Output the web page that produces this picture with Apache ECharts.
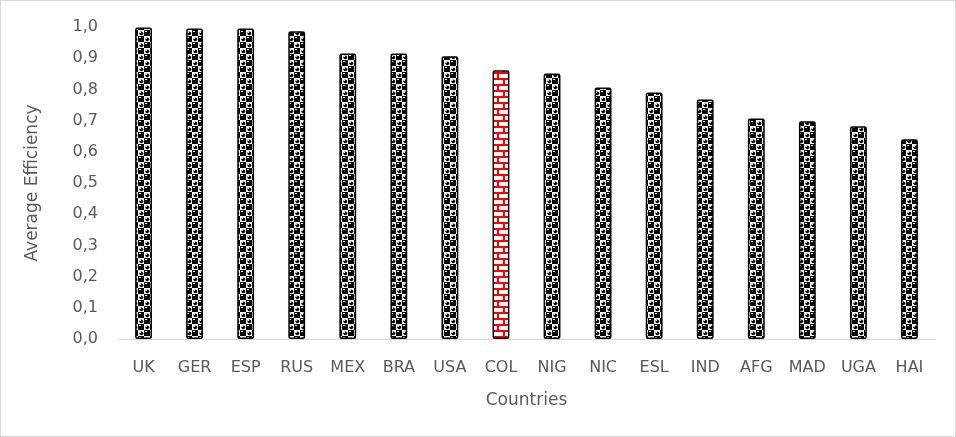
<!DOCTYPE html>
<html>
<head>
<meta charset="utf-8">
<script src="https://cdn.jsdelivr.net/npm/echarts@6/dist/echarts.min.js"></script>
<style>
html,body{margin:0;padding:0;background:#fff;}
#wrap{position:absolute;left:0;top:0;width:954px;height:435px;border:1px solid #d9d9d9;}
#chart{position:absolute;left:-1px;top:-1px;width:956px;height:437px;}
</style>
</head>
<body>
<div id="wrap"><div id="chart"></div></div>
<script>
const categories = ['UK','GER','ESP','RUS','MEX','BRA','USA','COL','NIG','NIC','ESL','IND','AFG','MAD','UGA','HAI'];
const efficiency = [0.998,0.995,0.995,0.986,0.915,0.915,0.906,0.861,0.851,0.806,0.790,0.768,0.707,0.698,0.682,0.640];
const highlighted = ['COL'];
const yTicks = [0,0.1,0.2,0.3,0.4,0.5,0.6,0.7,0.8,0.9,1.0];

function spherePattern(){
  const c = document.createElement('canvas');
  c.width = 12; c.height = 12;
  const g = c.getContext('2d');
  g.fillStyle = '#000'; g.fillRect(0,0,12,12);
  g.fillStyle = '#fff';
  g.fillRect(0,0,6,6); g.fillRect(6,6,6,6);
  g.fillStyle = '#000';
  g.beginPath(); g.arc(3.3,3.3,1.9,0,Math.PI*2); g.fill();
  g.beginPath(); g.arc(9.3,9.3,1.9,0,Math.PI*2); g.fill();
  g.fillStyle = '#fff';
  g.fillRect(2,2,1,1); g.fillRect(8,8,1,1);
  g.fillRect(7,1,2,1); g.fillRect(1,7,2,1);
  return c;
}
function brickPattern(){
  const c = document.createElement('canvas');
  c.width = 12; c.height = 12;
  const g = c.getContext('2d');
  g.fillStyle = '#fff'; g.fillRect(0,0,12,12);
  g.fillStyle = '#ff0000';
  g.fillRect(0,0,12,2);
  g.fillRect(0,6,12,2);
  g.fillRect(5,2,2,4);
  g.fillRect(0,8,1,4); g.fillRect(11,8,1,4);
  return c;
}
const sph = spherePattern();
const brk = brickPattern();

const chart = echarts.init(document.getElementById('chart'), null, {renderer:'canvas'});
const font = '"DejaVu Sans", sans-serif';
chart.setOption({
  animation:false,
  grid:{left:118, right:21, top:27, bottom:98},
  xAxis:{
    type:'category', data:categories,
    axisLine:{lineStyle:{color:'#d9d9d9', width:1}},
    axisTick:{show:false},
    axisLabel:{color:'#595959', fontSize:16, fontFamily:font, margin:21},
    name:'Countries', nameLocation:'middle', nameGap:53,
    nameTextStyle:{color:'#595959', fontSize:17, fontFamily:font}
  },
  yAxis:{
    type:'value', min:0, max:1, interval:0.1,
    axisLine:{show:false}, axisTick:{show:false},
    splitLine:{show:false},
    axisLabel:{color:'#595959', fontSize:16, fontFamily:font, margin:20,
      formatter:v=>v.toFixed(1).replace('.', ',')},
    name:'Average Efficiency', nameLocation:'middle', nameGap:77,
    nameTextStyle:{color:'#595959', fontSize:17, fontFamily:font}
  },
  series:[{
    type:'bar',
    barWidth:'33%',
    data:categories.map((c,i)=>({
      value:efficiency[i],
      itemStyle:{
        color:{image: highlighted.includes(c)?brk:sph, repeat:'repeat'},
        borderColor:'#000', borderWidth:1.5, borderRadius:1.5
      }
    }))
  }]
});
</script>
</body>
</html>
